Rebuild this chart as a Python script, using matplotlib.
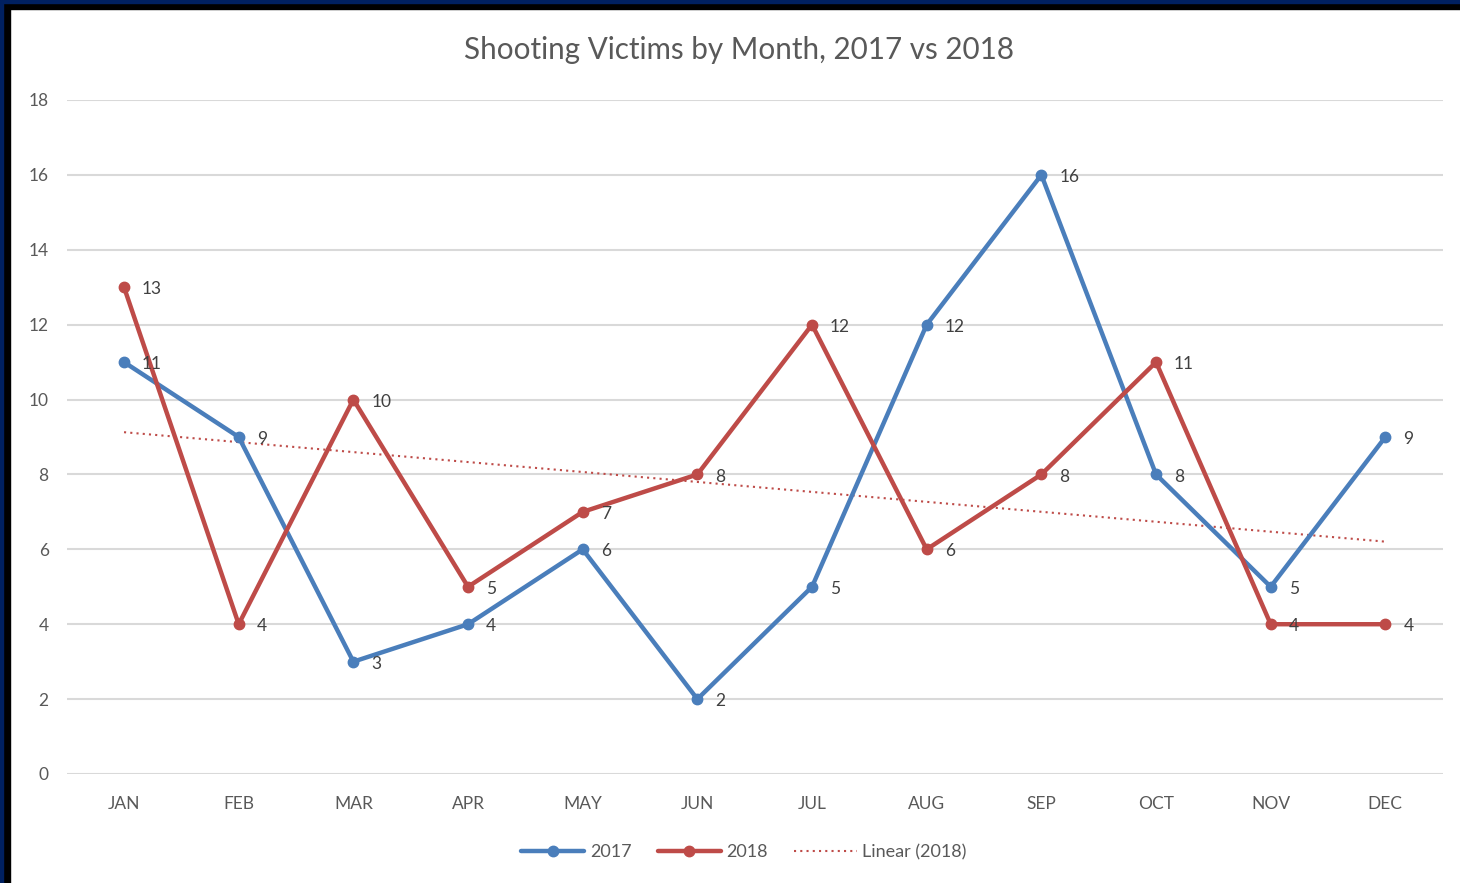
import matplotlib
matplotlib.use("Agg")
import matplotlib.pyplot as plt
import numpy as np
from matplotlib.patches import Rectangle

months = ["JAN", "FEB", "MAR", "APR", "MAY", "JUN", "JUL", "AUG", "SEP", "OCT", "NOV", "DEC"]
v2017 = [11, 9, 3, 4, 6, 2, 5, 12, 16, 8, 5, 9]
v2018 = [13, 4, 10, 5, 7, 8, 12, 6, 8, 11, 4, 4]
yticks = [0, 2, 4, 6, 8, 10, 12, 14, 16, 18]

plt.rcParams['font.family'] = ['Lato', 'DejaVu Sans']

BLUE = "#4A7EBB"
RED = "#BE4B48"
TXT = "#595959"

fig = plt.figure(figsize=(14.6, 8.83), dpi=100)
fig.patch.set_facecolor("white")
ax = fig.add_axes([66.7/1460, 1 - 774/883, (1442.7-66.7)/1460, (774-100)/883])

x = np.arange(len(months))
ax.plot(x, v2017, color=BLUE, lw=3.2, marker="o", ms=7.5, label="2017", zorder=3, solid_capstyle="round")
ax.plot(x, v2018, color=RED, lw=3.2, marker="o", ms=7.5, label="2018", zorder=4, solid_capstyle="round")
coef = np.polyfit(x, v2018, 1)
ax.plot(x, np.polyval(coef, x), color=RED, lw=1.5, ls=(0, (1, 2)), label="Linear (2018)", zorder=2)

for xi, v in zip(x, v2017):
    ax.annotate(str(v), (xi, v), xytext=(13, -1.5), textcoords="offset points",
                va="center", ha="left", fontsize=12.5, color="#404040", zorder=6)
for xi, v in zip(x, v2018):
    ax.annotate(str(v), (xi, v), xytext=(13, -1.5), textcoords="offset points",
                va="center", ha="left", fontsize=12.5, color="#404040", zorder=6)

ax.set_xlim(-0.5, 11.5)
ax.set_ylim(0, 18)
ax.set_yticks(yticks)
ax.set_xticks(x)
ax.set_xticklabels(months)
ax.tick_params(axis="both", length=0, colors=TXT, labelsize=12.5)
ax.tick_params(axis="y", pad=13)
ax.tick_params(axis="x", pad=16)
ax.grid(axis="y", color="#D9D9D9", lw=1.5)
ax.set_axisbelow(True)
for s in ax.spines.values():
    s.set_visible(False)

fig.text(739/1460, 1 - 50/883, "Shooting Victims by Month, 2017 vs 2018", ha="center", va="center",
         fontsize=21.3, color=TXT)

leg = fig.legend(loc="center", bbox_to_anchor=(744/1460, 1 - 852/883), ncol=3, frameon=False,
                 fontsize=13, handlelength=3.5, columnspacing=1.45, handletextpad=0.3)
for t in leg.get_texts():
    t.set_color(TXT)

# border
fig.add_artist(Rectangle((0, 0), 10/1460, 1, transform=fig.transFigure, color="black", zorder=10))
fig.add_artist(Rectangle((0, 1 - 9/883), 1, 9/883, transform=fig.transFigure, color="black", zorder=10))
fig.add_artist(Rectangle((0, 0), 3/1460, 1, transform=fig.transFigure, color="#002060", zorder=11))
fig.add_artist(Rectangle((0, 1 - 3/883), 1, 3/883, transform=fig.transFigure, color="#002060", zorder=11))

fig.savefig("out.png", dpi=100)
